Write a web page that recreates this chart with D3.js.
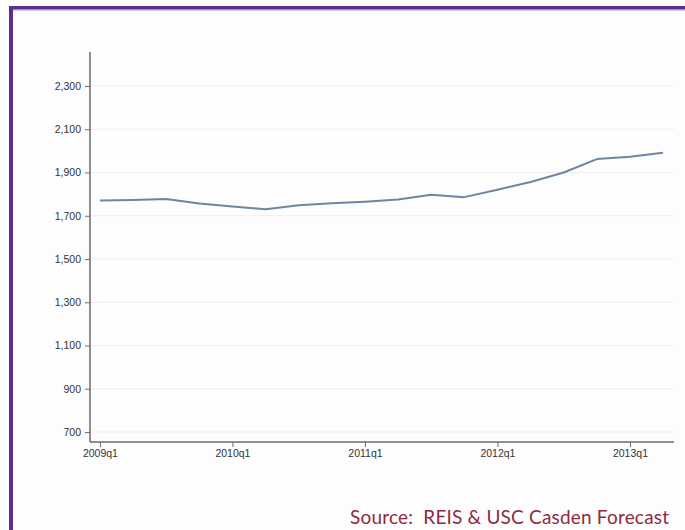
<!DOCTYPE html>
<html><head><meta charset="utf-8">
<script src="https://cdn.jsdelivr.net/npm/d3@7"></script>
<style>
html,body{margin:0;padding:0;background:#fff;}
svg{display:block;}
</style></head>
<body>
<svg id="chart" width="685" height="530"></svg>
<script>
const quarters = ["2009q1","2009q2","2009q3","2009q4","2010q1","2010q2","2010q3","2010q4",
  "2011q1","2011q2","2011q3","2011q4","2012q1","2012q2","2012q3","2012q4","2013q1","2013q2"];
const values = [1771,1773,1777,1757,1743,1730,1748,1758,1765,1775,1797,1786,1820,1856,1900,1962,1973,1991];
const yTicks = [700,900,1100,1300,1500,1700,1900,2100,2300];
const xTickLabels = ["2009q1","2010q1","2011q1","2012q1","2013q1"];
const sourceText = "Source:  REIS & USC Casden Forecast";

(function(){
const svg = d3.select("#chart");
svg.append("rect").attr("x",0).attr("y",0).attr("width",685).attr("height",530).attr("fill","#fdfdfd");
svg.append("rect").attr("x",9).attr("y",6).attr("width",676).attr("height",3).attr("fill","#5c2f8f");
svg.append("rect").attr("x",9).attr("y",9).attr("width",676).attr("height",1.5).attr("fill","#a98cc6");
svg.append("rect").attr("x",9).attr("y",6).attr("width",4).attr("height",524).attr("fill","#5c2f8f");

const mL = 90, mR = 674, mT = 52, mB = 442;
const x = d3.scaleLinear().domain([-0.30, 17.33]).range([mL, mR]);
const y = d3.scaleLinear().domain([654, 2457]).range([mB, mT]);

svg.append("g").selectAll("line").data(yTicks).join("line")
  .attr("x1", mL+1).attr("x2", mR).attr("y1", d=>y(d)).attr("y2", d=>y(d))
  .attr("stroke","#eeeeee").attr("stroke-width",1);

const yAxis = d3.axisLeft(y).tickValues(yTicks).tickSize(5).tickPadding(4).tickFormat(d3.format(","));
const gy = svg.append("g").attr("transform",`translate(${mL},0)`).call(yAxis);
gy.select(".domain").attr("d", `M0,${mT}V${mB}`);
const xTickIdx = xTickLabels.map(l => quarters.indexOf(l));
const xAxis = d3.axisBottom(x).tickValues(xTickIdx).tickSize(5).tickPadding(3).tickFormat(i => quarters[i]);
const gx = svg.append("g").attr("transform",`translate(0,${mB})`).call(xAxis);
gx.select(".domain").attr("d", `M${mL},0H${mR}`);

[gx, gy].forEach(g => {
  g.selectAll(".domain").attr("stroke","#6a6a6a").attr("stroke-width",1.5);
  g.selectAll(".tick line").attr("stroke","#6a6a6a").attr("stroke-width",1);
  g.selectAll("text").attr("fill","#333").style("font-family","'Liberation Sans', Arial, sans-serif").style("font-size","10.5px");
});

const line = d3.line().x((d,i)=>x(i)).y(d=>y(d));
svg.append("path").datum(values).attr("d", line)
  .attr("fill","none").attr("stroke","#6f86a2").attr("stroke-width",2).attr("stroke-linejoin","round");

svg.append("text").attr("x",669).attr("y",524).attr("text-anchor","end")
  .style("font-family","Lato, 'Open Sans', sans-serif").style("font-size","19px")
  .attr("textLength",319).attr("lengthAdjust","spacing")
  .attr("fill","#8e2b3d").attr("xml:space","preserve").text(sourceText);
})();
</script>
</body></html>
